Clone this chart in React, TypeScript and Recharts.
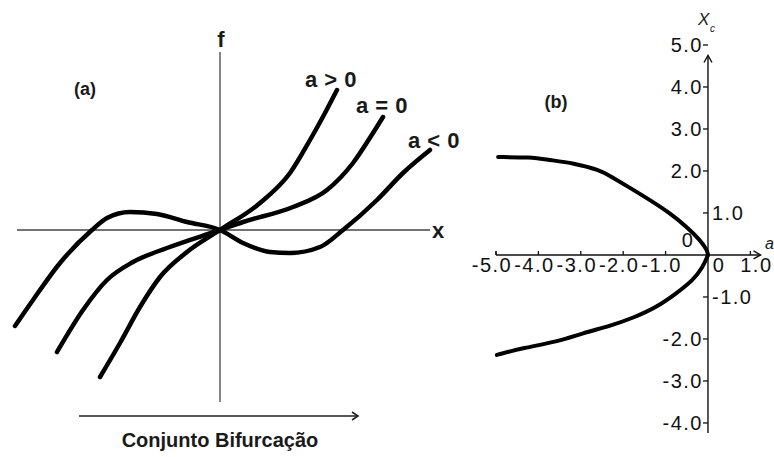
import React from 'react';
import { LineChart, Line, XAxis, YAxis, ReferenceLine, ReferenceDot } from 'recharts';

// (a) f(x) curves, one per sign of a
const xPos = [-1.2, -1.0, -0.8, -0.6, -0.33, 0, 0.4, 0.7, 0.9, 1.05, 1.17];
const fPos = [-1.47, -1.13, -0.77, -0.47, -0.22, 0, 0.27, 0.57, 0.9, 1.17, 1.4];
const xZero = [-1.63, -1.37, -1.13, -0.87, -0.53, 0, 0.23, 0.73, 1.07, 1.33, 1.53, 1.63];
const fZero = [-1.22, -0.8, -0.5, -0.32, -0.18, 0, 0.08, 0.23, 0.4, 0.67, 0.97, 1.13];
const xNeg = [-2.05, -1.87, -1.6, -1.28, -1.13, -0.9, -0.63, -0.33, 0, 0.23, 0.5, 0.7, 1.0, 1.23, 1.57, 1.83, 2.1];
const fNeg = [-0.96, -0.7, -0.33, 0, 0.12, 0.18, 0.16, 0.08, 0, -0.13, -0.22, -0.23, -0.17, 0, 0.3, 0.57, 0.8];

// (b) equilibrium branches x_c(a)
const aUpper = [-4.95, -4.2, -3.73, -3.18, -2.55, -2.31, -1.84, -1.37, -0.9, -0.5, -0.19, -0.02, 0];
const xcUpper = [2.33, 2.33, 2.26, 2.19, 2.02, 1.88, 1.6, 1.31, 1.0, 0.67, 0.36, 0.12, 0];
const aLower = [-4.98, -4.36, -3.56, -2.95, -2.31, -1.77, -1.2, -0.73, -0.35, -0.12, 0];
const xcLower = [-2.38, -2.21, -2.07, -1.86, -1.69, -1.5, -1.24, -0.9, -0.6, -0.29, 0];

const aTicks = [-5, -4, -3, -2, -1, 1];
const xcTicks = [-4, -3, -2, -1, 1, 2, 3, 4, 5];

const zip = (xs: number[], ys: number[], kx: string, ky: string) =>
  xs.map((v, i) => ({ [kx]: v, [ky]: ys[i] }));

const curvePos = zip(xPos, fPos, 'x', 'f');
const curveZero = zip(xZero, fZero, 'x', 'f');
const curveNeg = zip(xNeg, fNeg, 'x', 'f');
const branchUpper = zip(aUpper, xcUpper, 'a', 'xc');
const branchLower = zip(aLower, xcLower, 'a', 'xc');

const FONT = '"Liberation Sans", Arial, sans-serif';
const INK = '#111';

const tickText = {
  fontFamily: FONT,
  fontSize: 20,
  letterSpacing: 1.5,
  fill: INK,
};

const fmt = (v: number) => v.toFixed(1);

const aTickShape = (t: number) => (p: any) => (
  <g>
    <line x1={p.cx} x2={p.cx} y1={p.cy} y2={p.cy - 4} stroke={INK} strokeWidth={1.3} />
    <text x={p.cx + (t > 0 ? 6 : -4)} y={p.cy + 17} textAnchor="middle" style={tickText}>
      {fmt(t)}
    </text>
  </g>
);

const xcTickShape = (t: number) => (p: any) => (
  <g>
    <line x1={p.cx - 5} x2={p.cx} y1={p.cy} y2={p.cy} stroke={INK} strokeWidth={1.3} />
    {Math.abs(t) === 1 ? (
      <text x={p.cx + 4} y={p.cy + 7} textAnchor="start" style={tickText}>
        {fmt(t)}
      </text>
    ) : (
      <text x={p.cx - 5} y={p.cy + 7} textAnchor="end" style={tickText}>
        {fmt(t)}
      </text>
    )}
  </g>
);

const arrowRight = (p: any) => (
  <path d={`M${p.cx - 7},${p.cy - 4} L${p.cx},${p.cy} L${p.cx - 7},${p.cy + 4}`} fill="none" stroke={INK} strokeWidth={1.4} />
);
const arrowUp = (p: any) => (
  <path d={`M${p.cx - 4},${p.cy + 7} L${p.cx},${p.cy} L${p.cx + 4},${p.cy + 7}`} fill="none" stroke={INK} strokeWidth={1.4} />
);
const zeroLabels = (p: any) => (
  <g>
    <text x={p.cx - 20} y={p.cy - 8} textAnchor="middle" style={tickText}>0</text>
    <text x={p.cx + 11} y={p.cy + 17} textAnchor="middle" style={tickText}>0</text>
  </g>
);

const curveProps = {
  stroke: '#000',
  dot: false,
  activeDot: false,
  isAnimationActive: false,
  strokeLinecap: 'round' as const,
};

export default function App() {
  return (
    <div style={{ position: 'absolute', left: 0, top: 0, width: 774, height: 457, background: '#fff', overflow: 'hidden' }}>
      <div style={{ position: 'absolute', left: 0, top: 0 }}>
        <LineChart width={460} height={457} margin={{ top: 0, right: 0, bottom: 0, left: 0 }}>
          <XAxis type="number" dataKey="x" domain={[-2.2, 2.4]} allowDataOverflow hide />
          <YAxis type="number" dataKey="f" domain={[-2.27, 2.3]} allowDataOverflow hide />
          <ReferenceLine segment={[{ x: -2.03, y: 0 }, { x: 2.1, y: 0 }]} stroke="#444" strokeWidth={1.3} />
          <ReferenceLine segment={[{ x: 0, y: 1.78 }, { x: 0, y: -1.72 }]} stroke="#444" strokeWidth={1.3} />
          <Line {...curveProps} type="monotone" data={curveNeg} dataKey="f" strokeWidth={4.5} />
          <Line {...curveProps} type="monotone" data={curveZero} dataKey="f" strokeWidth={4.5} />
          <Line {...curveProps} type="monotone" data={curvePos} dataKey="f" strokeWidth={4.5} />
        </LineChart>
      </div>

      <div style={{ position: 'absolute', left: 460, top: 0 }}>
        <LineChart width={314} height={457} margin={{ top: 0, right: 0, bottom: 0, left: 0 }}>
          <XAxis type="number" dataKey="a" domain={[-5.849, 1.557]} allowDataOverflow hide />
          <YAxis type="number" dataKey="xc" domain={[-4.81, 6.071]} allowDataOverflow hide />
          <ReferenceLine segment={[{ x: -5, y: 0 }, { x: 1.24, y: 0 }]} stroke={INK} strokeWidth={1.4} />
          <ReferenceLine segment={[{ x: 0, y: -4.24 }, { x: 0, y: 4.75 }]} stroke={INK} strokeWidth={1.4} />
          <ReferenceDot x={1.24} y={0} r={0} shape={arrowRight} />
          <ReferenceDot x={0} y={4.75} r={0} shape={arrowUp} />
          <ReferenceDot x={-5} y={0} r={0} shape={(p: any) => (
            <line x1={p.cx} x2={p.cx} y1={p.cy} y2={p.cy - 4} stroke={INK} strokeWidth={1.3} />
          )} />
          {aTicks.map((t) => (
            <ReferenceDot key={`a${t}`} x={t} y={0} r={0} shape={aTickShape(t)} />
          ))}
          {xcTicks.map((t) => (
            <ReferenceDot key={`xc${t}`} x={0} y={t} r={0} shape={xcTickShape(t)} />
          ))}
          <ReferenceDot x={0} y={0} r={0} shape={zeroLabels} />
          <Line {...curveProps} type="basis" data={branchUpper} dataKey="xc" strokeWidth={4} />
          <Line {...curveProps} type="basis" data={branchLower} dataKey="xc" strokeWidth={4} />
        </LineChart>
      </div>

      <svg width={774} height={457} style={{ position: 'absolute', left: 0, top: 0, pointerEvents: 'none' }}>
        <g fontFamily={FONT} fill="#1a1a1a">
          <text x={221} y={47} fontSize={22} fontWeight="bold" textAnchor="middle">f</text>
          <text x={438} y={238} fontSize={22} fontWeight="bold" textAnchor="middle">x</text>
          <text x={85} y={95} fontSize={18} fontWeight="bold" textAnchor="middle">(a)</text>
          <text x={331} y={87} fontSize={22} fontWeight="bold" letterSpacing={0.5} textAnchor="middle">a &gt; 0</text>
          <text x={382} y={113} fontSize={22} fontWeight="bold" letterSpacing={0.5} textAnchor="middle">a = 0</text>
          <text x={434} y={148} fontSize={22} fontWeight="bold" letterSpacing={0.5} textAnchor="middle">a &lt; 0</text>
          <text x={220} y={447} fontSize={20} fontWeight="bold" textAnchor="middle">Conjunto Bifurcação</text>
          <text x={556} y={108} fontSize={18} fontWeight="bold" textAnchor="middle">(b)</text>
          <text x={698} y={25} fontSize={17} fontStyle="italic">X</text>
          <text x={710} y={32} fontSize={10} fontStyle="italic">c</text>
          <text x={765} y={249} fontSize={16} fontStyle="italic">a</text>
        </g>
        <line x1={79} x2={357} y1={416} y2={416} stroke="#222" strokeWidth={1.4} />
        <path d="M352,412 L358,416 L352,420" fill="none" stroke="#222" strokeWidth={1.6} />
      </svg>
    </div>
  );
}
